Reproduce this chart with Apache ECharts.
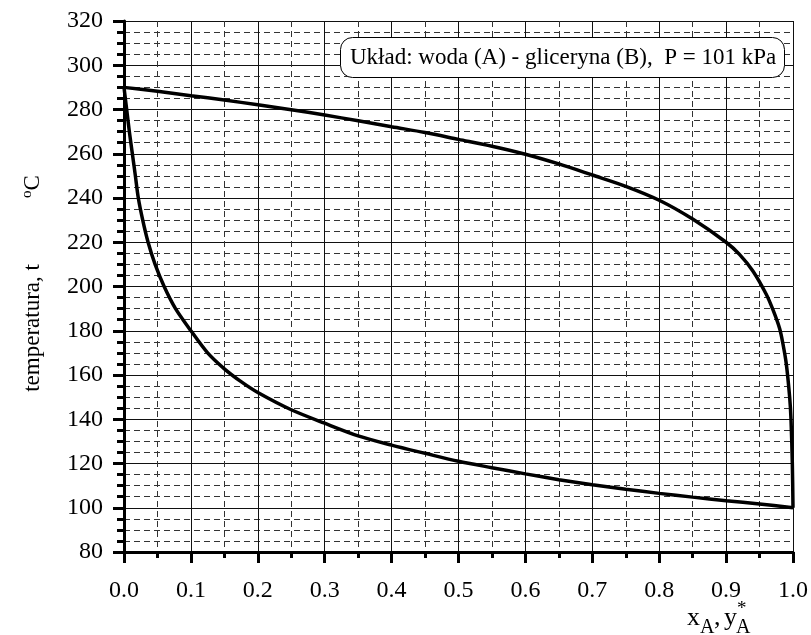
<!DOCTYPE html>
<html>
<head>
<meta charset="utf-8">
<script src="https://cdn.jsdelivr.net/npm/echarts@6/dist/echarts.min.js"></script>
<style>
html,body{margin:0;padding:0;background:#fff;}
#chart{width:811px;height:635px;}
</style>
</head>
<body>
<div id="chart"></div>
<script>
// Dew (vapour) curve: y*_A vs t
const dewX = [0, 0.05, 0.1, 0.15, 0.2, 0.25, 0.3, 0.35, 0.4, 0.45, 0.5, 0.55, 0.6, 0.65, 0.7, 0.75, 0.8, 0.85, 0.9, 0.92, 0.94, 0.96, 0.97, 0.98, 0.985, 0.99, 0.995, 0.997, 0.999, 1.0];
const dewT = [290, 288.2, 286.2, 284.3, 282.1, 279.9, 277.5, 274.9, 272.2, 269.6, 266.5, 263.4, 259.8, 255.4, 250.4, 245.3, 239, 230.5, 220, 214.5, 207, 196.5, 189.5, 181, 174, 165, 150, 140, 120, 100];
// Bubble (liquid) curve: x_A vs t
const bubX = [0, 0.004, 0.008, 0.0125, 0.017, 0.0214, 0.028, 0.036, 0.0465, 0.06, 0.077, 0.1, 0.125, 0.15, 0.175, 0.2, 0.25, 0.3, 0.35, 0.4, 0.45, 0.5, 0.55, 0.6, 0.65, 0.7, 0.75, 0.8, 0.85, 0.9, 0.95, 1.0];
const bubT = [290, 280, 270, 260, 250, 240, 230, 220, 210, 200, 190, 180, 170, 162.8, 157, 152.1, 144.3, 138.2, 132.5, 128.3, 124.6, 121, 118.1, 115.3, 112.7, 110.4, 108.4, 106.5, 104.8, 103.2, 101.7, 100];
// Axes
const xMin = 0, xMax = 1, xStep = 0.1;
const yMin = 80, yMax = 320, yStep = 20;
const titleText = 'Układ: woda (A) - gliceryna (B),  P = 101 kPa';
const yNameMain = 'temperatura, t';
const yNameUnit = 'C';

const FONT = '"Liberation Serif", "DejaVu Serif", serif';
const chart = echarts.init(document.getElementById('chart'));

const pairs = (xs, ys) => xs.map((x, i) => [x, ys[i]]);

chart.setOption({
  animation: false,
  backgroundColor: '#fff',
  grid: {left: 124, right: 15, top: 21, bottom: 83},
  title: {
    text: titleText,
    left: 340, top: 37,
    padding: [9, 9, 9, 10],
    borderColor: '#000', borderWidth: 1, borderRadius: 12,
    backgroundColor: '#fff',
    textStyle: {fontFamily: FONT, fontSize: 23, fontWeight: 'normal', color: '#000'}
  },
  xAxis: {
    type: 'value', min: xMin, max: xMax, interval: xStep,
    axisLine: {show: true, onZero: false, lineStyle: {color: '#000', width: 3}},
    axisTick: {show: true, length: 11, lineStyle: {color: '#000', width: 3}},
    minorTick: {show: true, splitNumber: 2, length: 6, lineStyle: {color: '#000', width: 3}},
    axisLabel: {margin: 27, fontFamily: FONT, fontSize: 24, color: '#000', formatter: v => v.toFixed(1)},
    splitLine: {show: true, lineStyle: {color: '#111', width: 1}},
    minorSplitLine: {show: true, lineStyle: {color: '#333', width: 1, type: [6, 4]}}
  },
  yAxis: {
    type: 'value', min: yMin, max: yMax, interval: yStep,
    name: '{pad|}{n|' + yNameMain + '}{gap|}{s|o}{n|' + yNameUnit + '}',
    nameLocation: 'middle', nameRotate: 90, nameGap: 80,
    nameTextStyle: {
      rich: {
        pad: {width: 6, lineHeight: 24},
        n: {fontFamily: FONT, fontSize: 23, color: '#000', lineHeight: 24, verticalAlign: 'bottom'},
        gap: {width: 66, lineHeight: 24},
        s: {fontFamily: FONT, fontSize: 15, color: '#000', lineHeight: 24, verticalAlign: 'top'}
      }
    },
    axisLine: {show: true, onZero: false, lineStyle: {color: '#000', width: 3}},
    axisTick: {show: true, length: 11, lineStyle: {color: '#000', width: 3}},
    minorTick: {show: true, splitNumber: 4, length: 7, lineStyle: {color: '#000', width: 3}},
    axisLabel: {margin: 21, fontFamily: FONT, fontSize: 24, color: '#000'},
    splitLine: {show: true, lineStyle: {color: '#111', width: 1}},
    minorSplitLine: {show: true, lineStyle: {color: '#333', width: 1, type: [6, 4]}}
  },
  graphic: [
    {type: 'text', left: 687, top: 605, style: {text: 'x', font: '26px ' + FONT, fill: '#000'}},
    {type: 'text', left: 700, top: 618, style: {text: 'A', font: '20px ' + FONT, fill: '#000'}},
    {type: 'text', left: 714, top: 605, style: {text: ',', font: '26px ' + FONT, fill: '#000'}},
    {type: 'text', left: 724, top: 605, style: {text: 'y', font: '26px ' + FONT, fill: '#000'}},
    {type: 'text', left: 737, top: 600, style: {text: '*', font: '19px ' + FONT, fill: '#000'}},
    {type: 'text', left: 736, top: 618, style: {text: 'A', font: '20px ' + FONT, fill: '#000'}}
  ],
  series: [
    {
      type: 'line', data: pairs(dewX, dewT), showSymbol: false,
      smooth: 0.3,
      lineStyle: {color: '#000', width: 3.5}, z: 5
    },
    {
      type: 'line', data: pairs(bubX, bubT), showSymbol: false,
      smooth: 0.3,
      lineStyle: {color: '#000', width: 3.5}, z: 5
    }
  ]
});
</script>
</body>
</html>
